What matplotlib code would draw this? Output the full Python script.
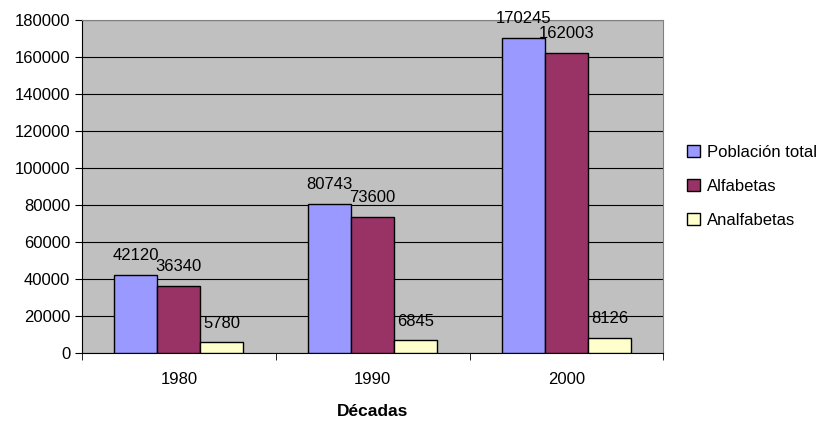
import numpy as np
import matplotlib.pyplot as plt

plt.rcParams["font.family"] = ["Liberation Sans", "DejaVu Sans"]

decadas = ["1980", "1990", "2000"]
poblacion = [42120, 80743, 170245]
alfabetas = [36340, 73600, 162003]
analfabetas = [5780, 6845, 8126]
series = [("Población total", poblacion, "#9999FF"),
          ("Alfabetas", alfabetas, "#993366"),
          ("Analfabetas", analfabetas, "#FFFFCC")]

fig = plt.figure(figsize=(8.2, 4.21), dpi=100)
ax = fig.add_axes([0.1, 0.1615, 0.709, 0.791])
ax.set_facecolor("#C0C0C0")

x = np.arange(len(decadas))
w = 0.222
for i, (name, vals, col) in enumerate(series):
    pos = x + (i - 1) * w
    ax.bar(pos, vals, width=w, color=col, edgecolor="black", linewidth=1, label=name, zorder=3)
    for p, v in zip(pos, vals):
        ax.annotate(str(v), (p, v), xytext=(0, 8.5), textcoords="offset points",
                    ha="center", va="bottom", fontsize=12, zorder=4)

ax.set_xlim(-0.5, 2.5)
ax.set_ylim(0, 180000)
ax.set_yticks(np.arange(0, 180001, 20000))
ax.yaxis.grid(True, color="black", linewidth=0.8, zorder=0)
ax.set_axisbelow(True)
ax.set_xticks(x)
ax.set_xticklabels(decadas)
ax.set_xticks([-0.5, 0.5, 1.5, 2.5], minor=True)
ax.tick_params(axis="x", which="major", length=0, labelsize=12, pad=14)
ax.tick_params(axis="x", which="minor", length=5, color="black")
ax.tick_params(axis="y", length=5, labelsize=12)
ax.spines["top"].set_color("#808080")
ax.spines["right"].set_color("#808080")
ax.set_xlabel("Décadas", fontweight="bold", fontsize=12.5, labelpad=12)

leg = ax.legend(loc="center left", bbox_to_anchor=(1.015, 0.5), frameon=False,
                fontsize=12, handlelength=0.75, handleheight=0.75, labelspacing=1.15,
                handletextpad=0.45)

fig.savefig("out.png", dpi=100)
